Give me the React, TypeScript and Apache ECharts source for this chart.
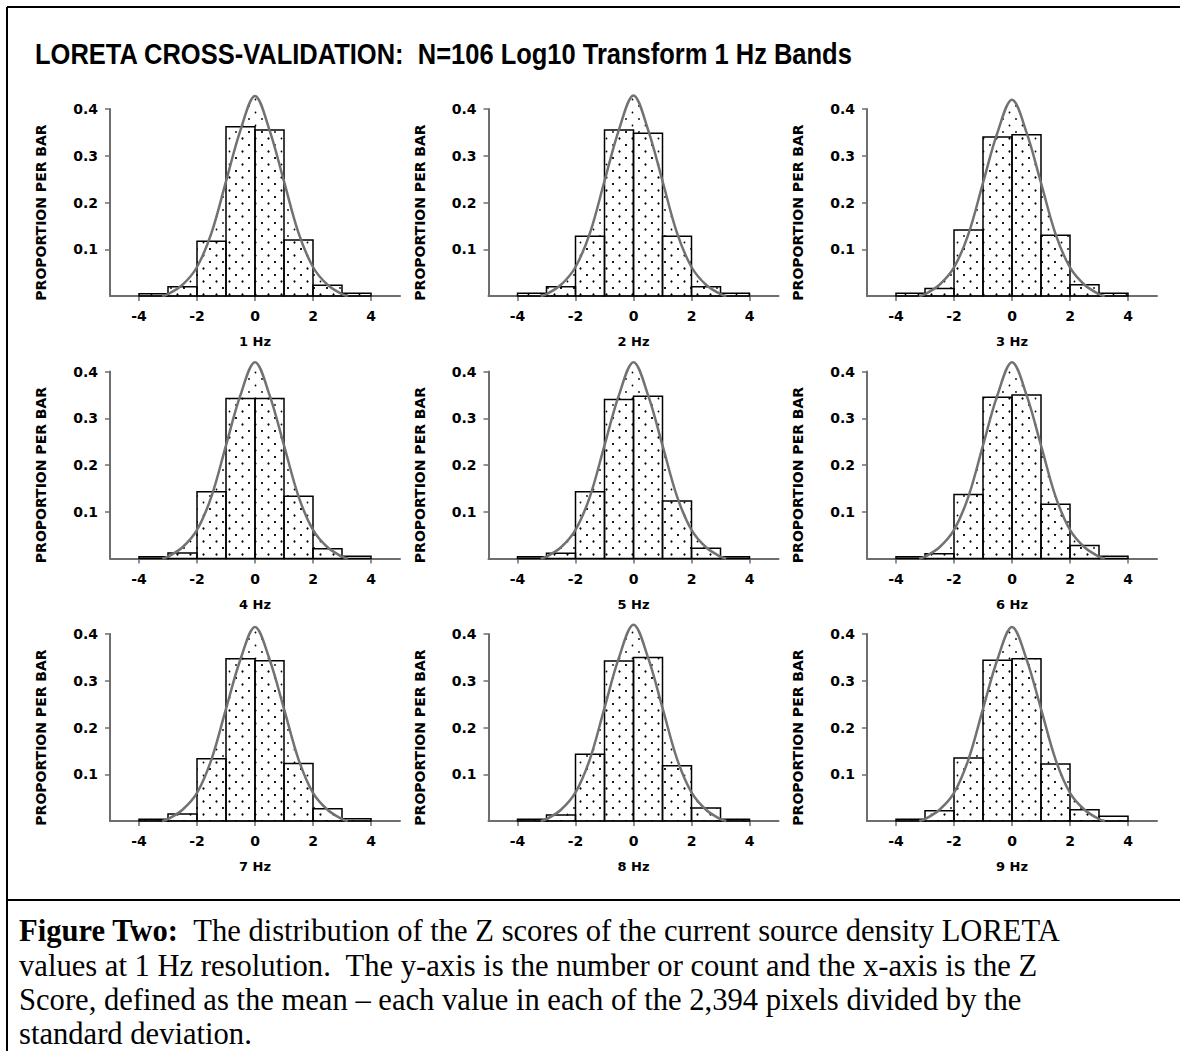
import React, { useEffect, useRef } from "react";
import * as echarts from "echarts";

// ---------- data ----------
const TITLE = "LORETA CROSS-VALIDATION:  N=106 Log10 Transform 1 Hz Bands";
const Y_NAME = "PROPORTION PER BAR";
const PANEL_LABELS = ["1 Hz", "2 Hz", "3 Hz", "4 Hz", "5 Hz", "6 Hz", "7 Hz", "8 Hz", "9 Hz"];
const X_TICKS = [-4, -2, 0, 2, 4];
const Y_TICKS = [0.1, 0.2, 0.3, 0.4];
const BIN_STARTS = [-4, -3, -2, -1, 0, 1, 2, 3];

const BARS_1HZ = [0.005, 0.02, 0.117, 0.362, 0.355, 0.12, 0.023, 0.006];
const BARS_2HZ = [0.006, 0.02, 0.128, 0.355, 0.348, 0.128, 0.02, 0.006];
const BARS_3HZ = [0.006, 0.016, 0.141, 0.34, 0.345, 0.13, 0.024, 0.006];
const BARS_4HZ = [0.004, 0.012, 0.143, 0.342, 0.342, 0.133, 0.021, 0.005];
const BARS_5HZ = [0.004, 0.011, 0.143, 0.34, 0.347, 0.123, 0.022, 0.004];
const BARS_6HZ = [0.004, 0.01, 0.137, 0.345, 0.35, 0.116, 0.028, 0.005];
const BARS_7HZ = [0.004, 0.015, 0.133, 0.347, 0.343, 0.123, 0.026, 0.005];
const BARS_8HZ = [0.004, 0.013, 0.143, 0.342, 0.35, 0.118, 0.028, 0.004];
const BARS_9HZ = [0.004, 0.022, 0.135, 0.344, 0.347, 0.122, 0.024, 0.01];

const CURVE_Z = [-3.2, -3, -2.5, -2, -1.5, -1, -0.5, 0, 0.5, 1, 1.5, 2, 2.5, 3, 3.2];
const CURVE_1HZ = [0, 0.004, 0.024, 0.062, 0.135, 0.245, 0.355, 0.428, 0.355, 0.245, 0.135, 0.062, 0.024, 0.004, 0];
const CURVE_2HZ = [0, 0.004, 0.024, 0.062, 0.135, 0.246, 0.356, 0.429, 0.356, 0.246, 0.135, 0.062, 0.024, 0.004, 0];
const CURVE_3HZ = [0, 0.004, 0.024, 0.061, 0.133, 0.242, 0.35, 0.42, 0.35, 0.242, 0.133, 0.061, 0.024, 0.004, 0];
const CURVE_4HZ = [0, 0.004, 0.024, 0.061, 0.133, 0.242, 0.35, 0.42, 0.35, 0.242, 0.133, 0.061, 0.024, 0.004, 0];
const CURVE_5HZ = [0, 0.004, 0.024, 0.061, 0.133, 0.242, 0.35, 0.42, 0.35, 0.242, 0.133, 0.061, 0.024, 0.004, 0];
const CURVE_6HZ = [0, 0.004, 0.024, 0.061, 0.133, 0.242, 0.35, 0.42, 0.35, 0.242, 0.133, 0.061, 0.024, 0.004, 0];
const CURVE_7HZ = [0, 0.004, 0.024, 0.06, 0.132, 0.24, 0.346, 0.415, 0.346, 0.24, 0.132, 0.06, 0.024, 0.004, 0];
const CURVE_8HZ = [0, 0.004, 0.024, 0.061, 0.133, 0.242, 0.35, 0.42, 0.35, 0.242, 0.133, 0.061, 0.024, 0.004, 0];
const CURVE_9HZ = [0, 0.004, 0.024, 0.06, 0.132, 0.24, 0.346, 0.415, 0.346, 0.24, 0.132, 0.06, 0.024, 0.004, 0];

const ALL_BARS = [BARS_1HZ, BARS_2HZ, BARS_3HZ, BARS_4HZ, BARS_5HZ, BARS_6HZ, BARS_7HZ, BARS_8HZ, BARS_9HZ];
const ALL_CURVES = [CURVE_1HZ, CURVE_2HZ, CURVE_3HZ, CURVE_4HZ, CURVE_5HZ, CURVE_6HZ, CURVE_7HZ, CURVE_8HZ, CURVE_9HZ];

const CAPTION_BOLD = "Figure Two:";
const CAPTION_LINES = [
  "  The distribution of the Z scores of the current source density LORETA",
  "values at 1 Hz resolution.  The y-axis is the number or count and the x-axis is the Z",
  "Score, defined as the mean \u2013 each value in each of the 2,394 pixels divided by the",
  "standard deviation.",
];

// ---------- layout ----------
const W = 1180;
const H = 1051;
const GRID_LEFT0 = 110;
const GRID_DX = 378.5;
const GRID_TOP0 = 109;
const GRID_DY = 262.5;
const GRID_W = 290;
const GRID_H = 187;
const SMALL_FONT = "DejaVu Sans";
const AXIS_GRAY = "#6e6e6e";
const CAP_SIZE = 30.6;

function makePattern() {
  const c = document.createElement("canvas");
  c.width = 13;
  c.height = 13;
  const ctx = c.getContext("2d")!;
  ctx.fillStyle = "#000";
  ctx.beginPath();
  ctx.arc(2, 2, 0.9, 0, Math.PI * 2);
  ctx.fill();
  ctx.beginPath();
  ctx.arc(8.5, 8.5, 0.9, 0, Math.PI * 2);
  ctx.fill();
  return c;
}

function measure(text: string, font: string) {
  const c = document.createElement("canvas");
  const ctx = c.getContext("2d")!;
  ctx.font = font;
  return ctx.measureText(text).width;
}

export default function App() {
  const ref = useRef<HTMLDivElement>(null);
  useEffect(() => {
    document.body.style.margin = "0";
    if (!ref.current) return;
    const chart = echarts.init(ref.current, undefined, { renderer: "svg" });
    const patternCanvas = makePattern();
    const pattern = () => ({ image: patternCanvas, repeat: "repeat" });

    const grids: any[] = [];
    const xAxes: any[] = [];
    const yAxes: any[] = [];
    const series: any[] = [];
    const labelStyle = { fontFamily: SMALL_FONT, fontWeight: "bold", fontSize: 14, color: "#000" };

    for (let i = 0; i < 9; i++) {
      const r = Math.floor(i / 3);
      const c = i % 3;
      grids.push({ left: GRID_LEFT0 + c * GRID_DX, top: GRID_TOP0 + r * GRID_DY, width: GRID_W, height: GRID_H });
      xAxes.push({
        gridIndex: i,
        type: "value",
        min: -5,
        max: 5,
        axisLine: { onZero: false, lineStyle: { color: AXIS_GRAY, width: 2 } },
        axisTick: { customValues: X_TICKS, length: 5, lineStyle: { color: AXIS_GRAY, width: 1.5 } },
        axisLabel: { customValues: X_TICKS, margin: 13, ...labelStyle, formatter: (v: number) => String(v) },
        splitLine: { show: false },
        name: PANEL_LABELS[i],
        nameLocation: "middle",
        nameGap: 39,
        nameTextStyle: { ...labelStyle, fontSize: 13 },
      });
      yAxes.push({
        gridIndex: i,
        type: "value",
        min: 0,
        max: 0.4,
        axisLine: { show: true, onZero: false, lineStyle: { color: AXIS_GRAY, width: 2 } },
        axisTick: { show: true, customValues: Y_TICKS, length: 5, lineStyle: { color: AXIS_GRAY, width: 1.5 } },
        axisLabel: { customValues: Y_TICKS, margin: 12, ...labelStyle, formatter: (v: number) => v.toFixed(1) },
        splitLine: { show: false },
        name: Y_NAME,
        nameLocation: "middle",
        nameGap: 62,
        nameTextStyle: { fontFamily: SMALL_FONT, fontWeight: "bold", fontSize: 14, color: "#000", padding: [0, 20, 0, 0] },
      });
      const bars = ALL_BARS[i];
      series.push({
        type: "custom",
        xAxisIndex: i,
        yAxisIndex: i,
        z: 2,
        data: BIN_STARTS.map((s, k) => [s, s + 1, bars[k]]),
        encode: { x: [0, 1], y: 2 },
        renderItem: (_p: any, api: any) => {
          const a = api.coord([api.value(0), api.value(2)]);
          const b = api.coord([api.value(1), 0]);
          return {
            type: "rect",
            shape: { x: a[0], y: a[1], width: b[0] - a[0], height: b[1] - a[1] },
            style: { fill: pattern(), stroke: "#000", lineWidth: 1.5 },
          };
        },
      });
      const curve = ALL_CURVES[i];
      series.push({
        type: "line",
        xAxisIndex: i,
        yAxisIndex: i,
        z: 3,
        clip: false,
        smooth: 0.35,
        symbol: "none",
        data: CURVE_Z.map((z, k) => [z, curve[k]]),
        lineStyle: { color: "#727272", width: 2.5 },
        areaStyle: { color: pattern(), opacity: 1 },
      });
    }

    const titleFont = 'bold 29px "Liberation Sans"';
    const titleW = measure(TITLE, titleFont);
    const titleScale = 818 / titleW;

    const capFont = `${CAP_SIZE}px "Liberation Serif"`;
    const capBaselines = [941, 975.5, 1010, 1044];
    const graphics: any[] = [
      { type: "line", shape: { x1: 7, y1: 7, x2: W, y2: 7 }, style: { stroke: "#000", lineWidth: 2 } },
      { type: "line", shape: { x1: 7, y1: 7, x2: 7, y2: H }, style: { stroke: "#000", lineWidth: 2 } },
      { type: "line", shape: { x1: 7, y1: 900, x2: W, y2: 900 }, style: { stroke: "#000", lineWidth: 2 } },
      {
        type: "text",
        x: 35,
        y: 54,
        scaleX: titleScale,
        style: { text: TITLE, font: titleFont, fill: "#000", verticalAlign: "middle", align: "left" },
      },
    ];
    CAPTION_LINES.forEach((line, k) => {
      graphics.push({
        type: "text",
        x: 19,
        y: capBaselines[k] - 10,
        style: {
          text: k === 0 ? `{b|${CAPTION_BOLD}}${line}` : line,
          font: capFont,
          fill: "#000",
          verticalAlign: "middle",
          align: "left",
          rich: {
            b: { fontFamily: "Liberation Serif", fontWeight: "bold", fontSize: CAP_SIZE, fill: "#000" },
          },
        },
      });
    });

    chart.setOption({
      animation: false,
      backgroundColor: "#fff",
      grid: grids,
      xAxis: xAxes,
      yAxis: yAxes,
      series,
      graphic: graphics,
    });
    return () => chart.dispose();
  }, []);
  return <div ref={ref} style={{ width: W, height: H }} />;
}
